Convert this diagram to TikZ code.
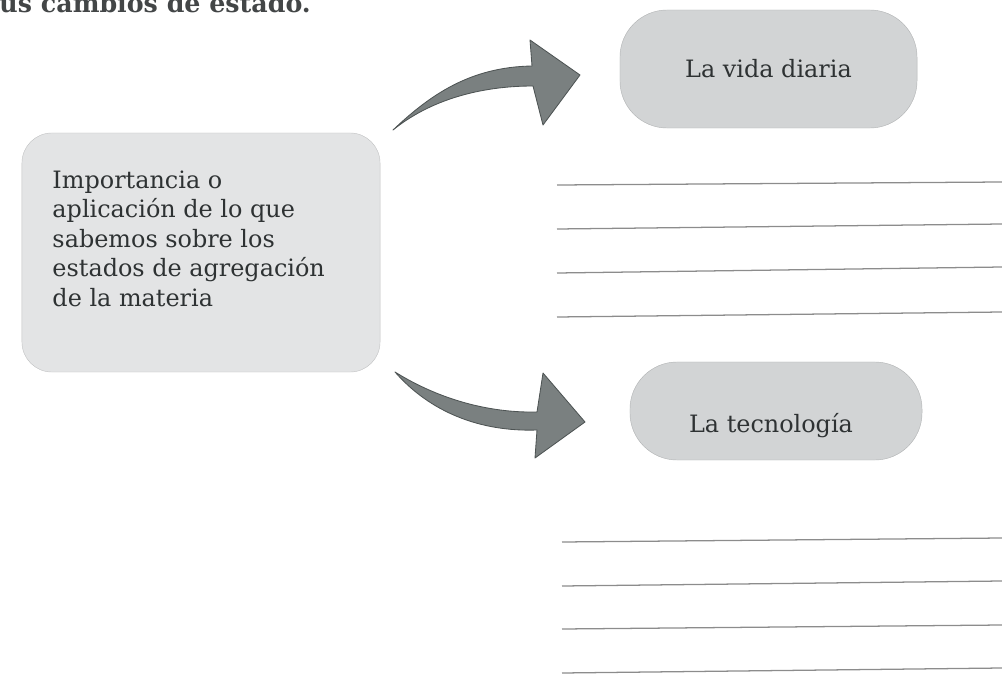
\documentclass[tikz,border=0pt]{standalone}
\usepackage{fontspec}
\setmainfont{DejaVu Serif}
\definecolor{boxgray}{HTML}{E3E4E5}
\definecolor{pillgray}{HTML}{D2D4D5}
\definecolor{arrowgray}{HTML}{7A8080}
\definecolor{arrowedge}{HTML}{4E5454}
\definecolor{rulegray}{HTML}{8C8C8C}
\definecolor{inkgray}{HTML}{2E3233}
\begin{document}
\begin{tikzpicture}[x=0.025cm, y=-0.025cm, line width=0.7pt,
    every node/.style={font=\fontsize{17}{21}\selectfont, text=inkgray},
    leftbox/.style={fill=boxgray, draw=boxgray!85!black, line width=0.3pt, rounded corners=0.75cm,
      minimum width=8.95cm, minimum height=5.975cm, inner sep=0pt},
    pill/.style={fill=pillgray, draw=pillgray!85!black, line width=0.3pt, rounded corners=1.18cm,
      inner sep=0pt},
    bigarrow/.style={fill=arrowgray, draw=arrowedge, line width=0.6pt, line join=round},
    answerline/.style={draw=rulegray, line width=0.9pt}]
  \useasboundingbox (0,0) rectangle (1002,677);
  % Cut-off heading above the picture
  \node[anchor=base west, inner sep=0pt, font=\fontsize{18}{20}\bfseries, text=inkgray!90!white]
    (heading) at (-1,13) {us cambios de estado.};
  % Left box with its text
  \node[leftbox] (impbox) at (201,252.5) {};
  \node[anchor=north west, inner sep=0pt, align=left] (imptext) at (52,170)
    {Importancia o\\aplicación de lo que\\sabemos sobre los\\estados de agregación\\de la materia};
  % Two pill boxes on the right
  \node[pill, minimum width=7.425cm, minimum height=2.95cm] (vida) at (768.5,69) {La vida diaria};
  \node[pill, minimum width=7.3cm, minimum height=2.45cm] (tecbox) at (776,411) {};
  \node[inner sep=0pt] (tec) at (771,426) {La tecnología};
  % Curved arrows
  \coordinate (uptail) at (393,130);
  \coordinate (downtail) at (395,372);
  \draw[bigarrow] (uptail) .. controls (430,95) and (470,67) .. (532,66)
    -- (530,40) -- (580,75) -- (543,125) -- (533,86)
    .. controls (480,86) and (430,100) .. (uptail) -- cycle;
  \draw[bigarrow] (downtail) .. controls (440,400) and (490,413) .. (537,412)
    -- (543,373) -- (585,422) -- (535,458) -- (537,430)
    .. controls (480,432) and (430,412) .. (downtail) -- cycle;
  % Answer lines
  \foreach \yl/\yr in {185/182, 229/224, 273/267, 317/312}
    \draw[answerline] (557,\yl) -- (1002,\yr);
  \foreach \yl/\yr in {542/538, 586/581, 629/625, 673/668}
    \draw[answerline] (562,\yl) -- (1002,\yr);
\end{tikzpicture}
\end{document}
